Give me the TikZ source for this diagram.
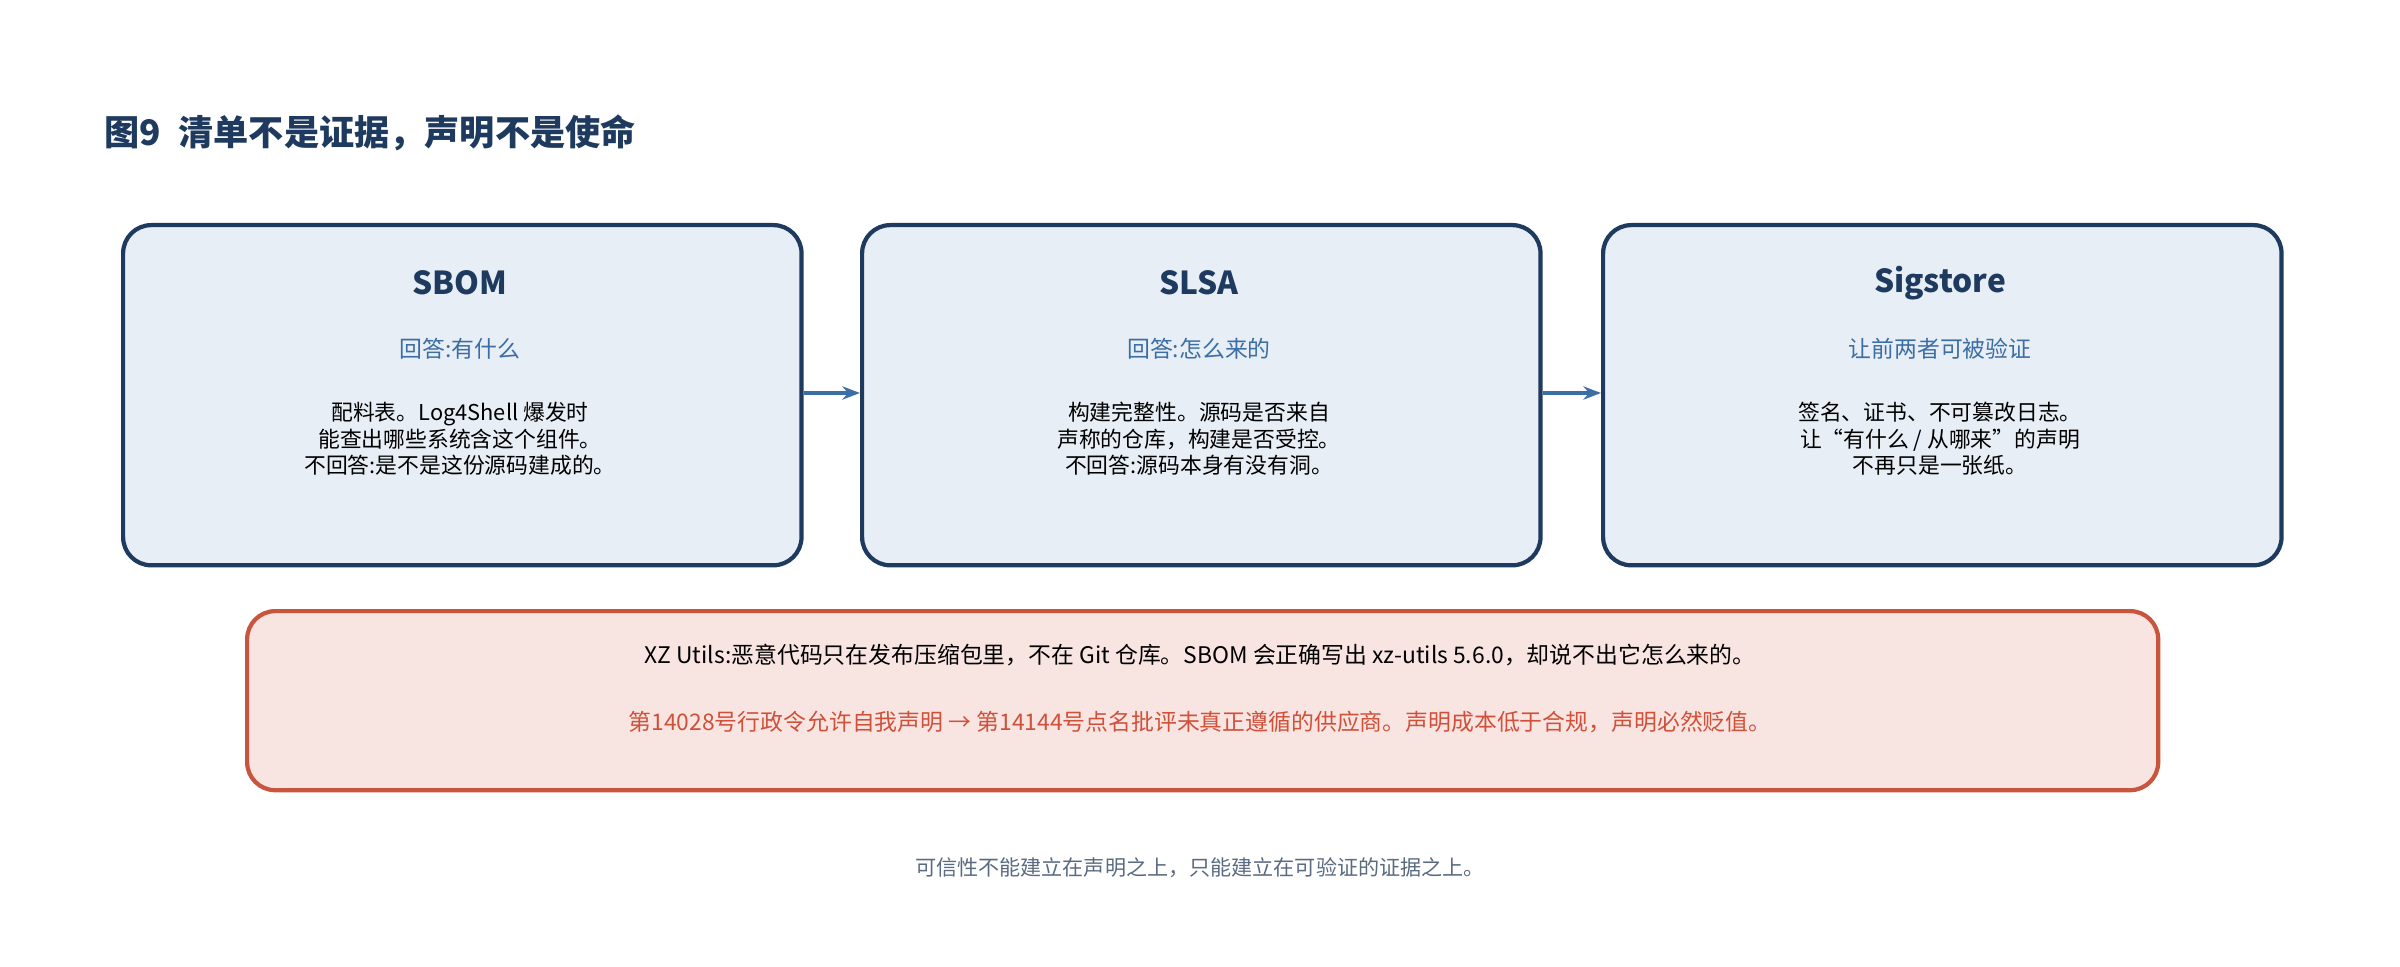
\documentclass[tikz,border=0pt]{standalone}
\usepackage{fontspec}
\setmainfont{Noto Sans CJK SC}
\usetikzlibrary{arrows.meta}
\definecolor{navy}{HTML}{1F3A5F}
\definecolor{boxfill}{HTML}{E8EEF5}
\definecolor{subblue}{HTML}{3A6EA5}
\definecolor{redline}{HTML}{C8553D}
\definecolor{redfill}{HTML}{F8E5E1}
\definecolor{redtext}{HTML}{D0503A}
\definecolor{graytext}{HTML}{5A6A80}
\begin{document}
\begin{tikzpicture}[x=0.01cm,y=-0.01cm,
  card/.style={draw=navy,fill=boxfill,line width=1.2pt,rounded corners=8pt,minimum width=6.78cm,minimum height=3.4cm,anchor=north west,inner sep=0pt},
  ttl/.style={font=\fontsize{9}{11}\selectfont\bfseries,text=navy},
  sub/.style={font=\fontsize{6.5}{8}\selectfont,text=subblue},
  body/.style={font=\fontsize{6.2}{7.5}\selectfont,text=black,align=center},
  arr/.style={-{Stealth[length=5pt]},draw=subblue,line width=1.1pt}]
\useasboundingbox (0,0) rectangle (2400,967);
\node[anchor=west,font=\fontsize{10}{12}\selectfont\bfseries,text=navy] (title) at (92,133) {图9\enspace 清单不是证据，声明不是使命};
\node[card] (b1) at (121,223) {};
\node[card] (b2) at (860,223) {};
\node[card] (b3) at (1601,223) {};
\node[ttl] (t1) at (460,283) {SBOM};
\node[ttl] (t2) at (1199,283) {SLSA};
\node[ttl] (t3) at (1940,283) {Sigstore};
\node[sub] (s1) at (460,349) {回答:有什么};
\node[sub] (s2) at (1199,349) {回答:怎么来的};
\node[sub] (s3) at (1940,349) {让前两者可被验证};
\node[body] (d1) at (460,439) {配料表。Log4Shell 爆发时\\能查出哪些系统含这个组件。\\不回答:是不是这份源码建成的。};
\node[body] (d2) at (1199,439) {构建完整性。源码是否来自\\声称的仓库，构建是否受控。\\不回答:源码本身有没有洞。};
\node[body] (d3) at (1940,439) {签名、证书、不可篡改日志。\\让“有什么 / 从哪来”的声明\\不再只是一张纸。};
\draw[arr] (b1.east |- 0,393) -- (b2.west |- 0,393);
\draw[arr] (b2.east |- 0,393) -- (b3.west |- 0,393);
\node[draw=redline,fill=redfill,line width=1.2pt,rounded corners=8pt,minimum width=19.1cm,minimum height=1.79cm,inner sep=0pt,anchor=north west] (r) at (245,609) {};
\node[font=\fontsize{6.5}{8}\selectfont,text=black] (r1) at (1200,655) {XZ Utils:恶意代码只在发布压缩包里，不在 Git 仓库。SBOM 会正确写出 xz-utils 5.6.0，却说不出它怎么来的。};
\node[font=\fontsize{6.5}{8}\selectfont,text=redtext] (r2) at (1200,722) {第14028号行政令允许自我声明 → 第14144号点名批评未真正遵循的供应商。声明成本低于合规，声明必然贬值。};
\node[font=\fontsize{6}{7}\selectfont,text=graytext] (f) at (1200,868) {可信性不能建立在声明之上，只能建立在可验证的证据之上。};
\end{tikzpicture}
\end{document}
